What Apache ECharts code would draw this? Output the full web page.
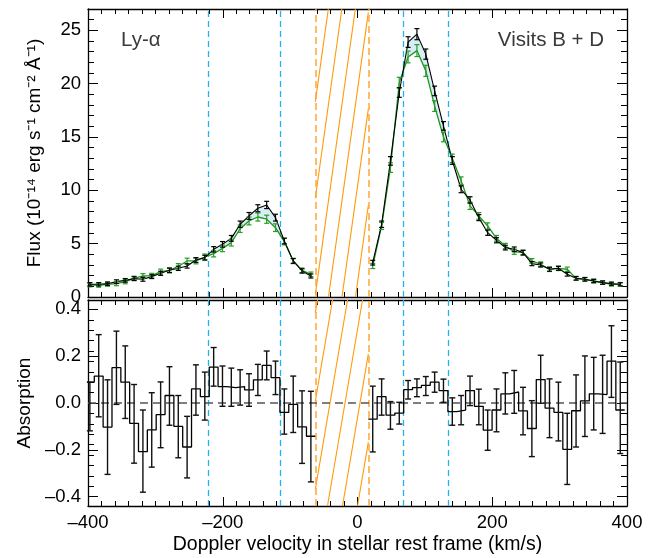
<!DOCTYPE html>
<html><head><meta charset="utf-8">
<script src="https://cdn.jsdelivr.net/npm/echarts@6/dist/echarts.min.js"></script>
<style>html,body{margin:0;padding:0;background:#fff}#c{width:657px;height:558px}</style>
</head><body><div id="c"></div>
<script>
// ---- data ----
const velocity = [-397.2,-384.1,-371.0,-357.8,-344.7,-331.6,-318.5,-305.4,-292.2,-279.1,-266.0,-252.9,-239.8,-226.6,-213.5,-200.4,-187.3,-174.2,-161.0,-147.9,-134.8,-121.7,-108.6,-95.4,-82.3,-69.2,
  22.6,35.8,48.9,62.0,75.1,88.2,101.4,114.5,127.6,140.7,153.8,167.0,180.1,193.2,206.3,219.4,232.6,245.7,258.8,271.9,285.0,298.2,311.3,324.4,337.5,350.6,363.8,376.9,390.0];
const fluxBlack = [1.19,1.19,1.25,1.44,1.56,1.72,1.66,1.91,2.22,2.50,2.69,2.91,3.47,3.69,4.47,4.94,5.50,6.82,7.60,8.32,8.63,7.44,5.25,3.38,2.44,1.97,
  3.22,6.82,12.76,19.17,23.90,24.64,22.77,19.32,16.04,12.80,10.10,9.10,7.44,6.03,5.32,4.63,4.47,4.16,3.13,3.00,2.60,2.69,2.13,1.75,1.66,1.50,1.35,1.25,1.19];
const errBlack = [0.16,0.16,0.16,0.17,0.17,0.18,0.18,0.18,0.19,0.2,0.2,0.2,0.22,0.22,0.25,0.26,0.27,0.3,0.32,0.33,0.34,0.32,0.27,0.22,0.2,0.19,
  0.22,0.3,0.4,0.45,0.5,0.52,0.48,0.45,0.4,0.36,0.32,0.3,0.28,0.25,0.24,0.22,0.22,0.21,0.19,0.19,0.18,0.18,0.17,0.16,0.16,0.15,0.15,0.15,0.14];
const fluxGreen = [1.13,1.10,1.19,1.25,1.44,1.75,1.97,2.00,2.38,2.50,2.88,3.38,3.38,3.75,4.06,4.56,5.10,6.40,7.13,7.50,7.29,6.50,5.19,3.38,2.50,2.13,
  2.91,6.66,12.13,20.10,22.50,23.10,21.20,17.90,15.00,13.00,10.90,8.54,7.60,6.66,5.50,4.78,4.25,4.16,3.38,3.07,2.60,2.69,2.60,1.75,1.66,1.50,1.35,1.19,1.19];
const errGreen = [0.18,0.18,0.18,0.19,0.2,0.2,0.22,0.22,0.23,0.24,0.25,0.26,0.27,0.28,0.3,0.31,0.32,0.35,0.37,0.38,0.38,0.36,0.3,0.25,0.22,0.21,
  0.24,0.33,0.45,0.5,0.55,0.56,0.52,0.5,0.45,0.4,0.36,0.33,0.31,0.29,0.27,0.25,0.25,0.24,0.22,0.22,0.21,0.21,0.2,0.19,0.18,0.18,0.17,0.17,0.17];
const absorption = [0.089,0.115,-0.103,0.151,0.089,-0.087,-0.208,-0.115,-0.050,0.032,-0.100,-0.188,0.060,0.027,0.153,0.070,0.066,0.070,0.056,0.099,0.161,0.108,-0.040,-0.006,-0.102,-0.142,
  -0.069,0.027,-0.052,-0.043,0.057,0.066,0.075,0.089,0.053,-0.037,-0.030,0.053,-0.014,-0.116,-0.030,0.039,0.047,-0.034,-0.109,0.100,-0.022,-0.040,-0.198,-0.033,0.009,0.039,0.036,0.179,-0.030];
const absHigh = [0.089,0.292,0.099,0.307,0.244,0.079,-0.030,0.044,0.090,0.155,0.032,-0.057,0.163,0.132,0.237,0.158,0.149,0.142,0.125,0.165,0.222,0.179,0.060,0.115,0.052,0.050,
  0.072,0.103,0.006,0.003,0.096,0.103,0.113,0.132,0.102,0.022,0.032,0.115,0.059,-0.030,0.060,0.129,0.139,0.067,0.010,0.204,0.103,0.089,-0.044,0.120,0.201,0.195,0.204,0.330,0.175];
const absLow = [-0.119,-0.059,-0.305,-0.006,-0.066,-0.257,-0.381,-0.274,-0.191,-0.095,-0.234,-0.320,-0.052,-0.073,0.072,-0.014,-0.014,-0.009,-0.014,0.032,0.099,0.036,-0.133,-0.126,-0.258,-0.337,
  -0.209,-0.052,-0.112,-0.090,0.017,0.027,0.032,0.046,0.003,-0.095,-0.093,-0.011,-0.093,-0.202,-0.123,-0.047,-0.044,-0.136,-0.229,-0.001,-0.148,-0.162,-0.348,-0.188,-0.143,-0.115,-0.130,0.024,-0.216];
const blueLines = [-222.1, -115.1, 68.6, 134.2];
const orangeLines = [-62.6, 16.1];
const xTicksMajor = [-400,-200,0,200,400];
const xTickLabels = [-400,-200,0,200,400];
const fluxTicks = [0,5,10,15,20,25];
const absTicks = [-0.4,-0.2,0.0,0.2,0.4];
const panelTexts = ['Ly-α', 'Visits B + D'];

// ---- helpers ----
const FONT = 'Liberation Sans, Arial, Helvetica, sans-serif';
function seq(a, b, s) { const o = []; for (let v = a; v <= b + 1e-9; v += s) o.push(+v.toFixed(4)); return o; }
const xMinor = seq(-400, 400, 20).filter(v => v % 200 !== 0);
const fluxMinor = seq(0, 27, 1).filter(v => v % 5 !== 0);
const absMinor = [];
for (let k = -9; k <= 9; k++) { if (k !== 0 && Math.abs(k) !== 9) absMinor.push(+(k * 0.4 / 9).toFixed(5)); }

// split into contiguous segments (gap over the hatched region)
const segs = [];
{
  let cur = [0];
  for (let i = 1; i < velocity.length; i++) {
    if (velocity[i] - velocity[i - 1] > 20) { segs.push(cur); cur = []; }
    cur.push(i);
  }
  segs.push(cur);
}

const xAxes = [], yAxes = [];
function addAxis(list, o) { list.push(o); return list.length - 1; }
function mkAxis(grid, pos, min, max, ticks, len, labels, fmt, showLine, name) {
  const a = {
    type: 'value', gridIndex: grid, position: pos, min: min, max: max,
    axisLine: { show: showLine, onZero: false, lineStyle: { color: '#000', width: 1.3 } },
    axisTick: { show: true, inside: true, length: len, customValues: ticks, lineStyle: { color: '#000', width: 1 } },
    axisLabel: { show: !!labels, color: '#000', fontSize: 18.5, fontFamily: FONT, margin: 7, formatter: fmt },
    splitLine: { show: false }
  };
  if (labels) a.axisLabel.customValues = labels;
  if (name) Object.assign(a, name);
  return a;
}
const fmtX = v => v < 0 ? '\u2013' + (-v) : String(v);
const fmtAbs = v => (v < -1e-9 ? '\u2013' : '') + Math.abs(v).toFixed(1);
const fmtFlux = v => String(v);

const G0 = { left: 88, right: 30, top: 9, height: 288 };
const G1 = { left: 88, right: 30, top: 300, height: 206 };

// top panel axes
const x0 = addAxis(xAxes, mkAxis(0, 'bottom', -400, 400, xTicksMajor, 9, null, fmtX, true));
addAxis(xAxes, mkAxis(0, 'bottom', -400, 400, xMinor, 5, null, fmtX, false));
addAxis(xAxes, mkAxis(0, 'top', -400, 400, xTicksMajor, 9, null, fmtX, true));
addAxis(xAxes, mkAxis(0, 'top', -400, 400, xMinor, 5, null, fmtX, false));
const y0 = addAxis(yAxes, mkAxis(0, 'left', 0, 27, fluxTicks, 10, fluxTicks, fmtFlux, true, {
  name: 'Flux (10\u207B\u00B9\u2074 erg s\u207B\u00B9 cm\u207B\u00B2 \u00C5\u207B\u00B9)', nameLocation: 'middle', nameGap: 44,
  nameTextStyle: { fontSize: 19, fontFamily: FONT, color: '#000' } }));
addAxis(yAxes, mkAxis(0, 'left', 0, 27, fluxMinor, 6, null, fmtFlux, false));
addAxis(yAxes, mkAxis(0, 'right', 0, 27, fluxTicks, 10, null, fmtFlux, true));
addAxis(yAxes, mkAxis(0, 'right', 0, 27, fluxMinor, 6, null, fmtFlux, false));
// bottom panel axes
const x1 = addAxis(xAxes, mkAxis(1, 'bottom', -400, 400, xTicksMajor, 9, xTickLabels, fmtX, true, {
  name: 'Doppler velocity in stellar rest frame (km/s)', nameLocation: 'middle', nameGap: 29,
  nameTextStyle: { fontSize: 19.5, fontFamily: FONT, color: '#000' } }));
addAxis(xAxes, mkAxis(1, 'bottom', -400, 400, xMinor, 5, null, fmtX, false));
addAxis(xAxes, mkAxis(1, 'top', -400, 400, xTicksMajor, 9, null, fmtX, true));
addAxis(xAxes, mkAxis(1, 'top', -400, 400, xMinor, 5, null, fmtX, false));
const y1 = addAxis(yAxes, mkAxis(1, 'left', -0.44, 0.44, absTicks, 10, absTicks, fmtAbs, true, {
  name: 'Absorption', nameLocation: 'middle', nameGap: 44,
  nameTextStyle: { fontSize: 19, fontFamily: FONT, color: '#000' } }));
addAxis(yAxes, mkAxis(1, 'left', -0.44, 0.44, absMinor, 6, null, fmtAbs, false));
addAxis(yAxes, mkAxis(1, 'right', -0.44, 0.44, absTicks, 10, null, fmtAbs, true));
addAxis(yAxes, mkAxis(1, 'right', -0.44, 0.44, absMinor, 6, null, fmtAbs, false));

// ---- renderers ----
function errRender(color, cap, width) {
  return function (params, api) {
    const x = api.value(0), lo = api.value(1), hi = api.value(2);
    const a = api.coord([x, lo]), b = api.coord([x, hi]);
    const st = { stroke: color, lineWidth: width, fill: null };
    return { type: 'group', children: [
      { type: 'line', shape: { x1: a[0], y1: a[1], x2: b[0], y2: b[1] }, style: st },
      { type: 'line', shape: { x1: a[0] - cap, y1: a[1], x2: a[0] + cap, y2: a[1] }, style: st },
      { type: 'line', shape: { x1: b[0] - cap, y1: b[1], x2: b[0] + cap, y2: b[1] }, style: st }
    ] };
  };
}
function hatchRender(ratio, spacing, anchor) {
  return function (params, api) {
    const cs = params.coordSys;
    const L = api.coord([api.value(0), 0])[0], R = api.coord([api.value(1), 0])[0];
    const bottom = cs.y + cs.height, H = cs.height;
    const children = [];
    let start = anchor - Math.ceil((anchor - (L - H * ratio)) / spacing) * spacing;
    for (let xb = start; xb <= R; xb += spacing) {
      let h0 = Math.max(0, (L - xb) / ratio), h1 = Math.min(H, (R - xb) / ratio);
      if (h1 <= h0) continue;
      children.push({ type: 'line', shape: { x1: xb + h0 * ratio, y1: bottom - h0, x2: xb + h1 * ratio, y2: bottom - h1 },
        style: { stroke: '#ff9a0a', lineWidth: 1.1 } });
    }
    return { type: 'group', children };
  };
}
function interp(xs, ys, x) {
  for (let i = 0; i < xs.length - 1; i++) {
    if (x >= xs[i] && x <= xs[i + 1]) return ys[i] + (ys[i + 1] - ys[i]) * (x - xs[i]) / (xs[i + 1] - xs[i]);
  }
  return null;
}
function fillRender(params, api) {
  const children = [];
  const pairs = [[blueLines[0], blueLines[1]], [blueLines[2], blueLines[3]]];
  pairs.forEach(([a, b]) => {
    const xs = [a]; velocity.forEach(v => { if (v > a && v < b) xs.push(v); }); xs.push(b);
    const top = xs.map(x => api.coord([x, interp(velocity, fluxBlack, x)]));
    const bot = xs.map(x => api.coord([x, interp(velocity, fluxGreen, x)])).reverse();
    children.push({ type: 'polygon', shape: { points: top.concat(bot) }, style: { fill: '#d8eef5', stroke: null } });
  });
  return { type: 'group', children };
}

// ---- series ----
const series = [];
series.push({ type: 'custom', xAxisIndex: x0, yAxisIndex: y0, renderItem: fillRender, data: [[0, 0]], z: 1, silent: true });
series.push({ type: 'custom', xAxisIndex: x0, yAxisIndex: y0, renderItem: hatchRender(0.14, 13.5, 315), data: [[orangeLines[0], orangeLines[1]]], encode: { x: [0, 1] }, z: 2, silent: true });
series.push({ type: 'custom', xAxisIndex: x1, yAxisIndex: y1, renderItem: hatchRender(0.17, 15, 312.5), data: [[orangeLines[0], orangeLines[1]]], encode: { x: [0, 1] }, z: 2, silent: true });

const vlines = blueLines.map(v => ({ xAxis: v, lineStyle: { color: '#22b2ee', type: [6, 4], width: 1.3 } }))
  .concat(orangeLines.map(v => ({ xAxis: v, lineStyle: { color: '#ffa534', type: [7, 4], width: 1.5 } })));

segs.forEach((idx, k) => {
  series.push({ type: 'line', xAxisIndex: x0, yAxisIndex: y0, data: idx.map(i => [velocity[i], fluxGreen[i]]),
    symbol: 'none', lineStyle: { color: '#1e961e', width: 1.3 }, z: 4,
    markLine: k === 0 ? { silent: true, symbol: ['none', 'none'], label: { show: false }, data: vlines, z: 3 } : undefined });
  series.push({ type: 'line', xAxisIndex: x0, yAxisIndex: y0, data: idx.map(i => [velocity[i], fluxBlack[i]]),
    symbol: 'none', lineStyle: { color: '#000', width: 1.1 }, z: 5 });
  // step histogram in the lower panel
  const pts = [];
  idx.forEach((i, j) => {
    const prev = j > 0 ? velocity[idx[j - 1]] : null, next = j < idx.length - 1 ? velocity[idx[j + 1]] : null;
    const hl = prev !== null ? (velocity[i] - prev) / 2 : (next - velocity[i]) / 2;
    const hr = next !== null ? (next - velocity[i]) / 2 : (velocity[i] - prev) / 2;
    pts.push([velocity[i] - hl, absorption[i]], [velocity[i] + hr, absorption[i]]);
  });
  series.push({ type: 'line', xAxisIndex: x1, yAxisIndex: y1, data: pts, symbol: 'none', lineStyle: { color: '#000', width: 1.3 }, z: 5,
    markLine: k === 0 ? { silent: true, symbol: ['none', 'none'], label: { show: false }, z: 3,
      data: vlines.concat([{ yAxis: 0, lineStyle: { color: '#555', type: [8, 5], width: 1.5 } }]) } : undefined });
});
series.push({ type: 'custom', xAxisIndex: x0, yAxisIndex: y0, renderItem: errRender('#2a9a2a', 2.5, 1.2),
  data: velocity.map((v, i) => [v, fluxGreen[i] - errGreen[i], fluxGreen[i] + errGreen[i]]), encode: { x: 0, y: [1, 2] }, z: 6, silent: true });
series.push({ type: 'custom', xAxisIndex: x0, yAxisIndex: y0, renderItem: errRender('#000', 2.5, 1.2),
  data: velocity.map((v, i) => [v, fluxBlack[i] - errBlack[i], fluxBlack[i] + errBlack[i]]), encode: { x: 0, y: [1, 2] }, z: 7, silent: true });
series.push({ type: 'custom', xAxisIndex: x1, yAxisIndex: y1, renderItem: errRender('#111', 3, 1.4),
  data: velocity.map((v, i) => [v, absLow[i], absHigh[i]]), encode: { x: 0, y: [1, 2] }, z: 6, silent: true });

const chart = echarts.init(document.getElementById('c'), null, { renderer: 'canvas' });
chart.setOption({
  animation: false,
  backgroundColor: '#fff',
  grid: [G0, G1],
  xAxis: xAxes,
  yAxis: yAxes,
  series: series,
  graphic: [
    { type: 'text', left: 121, top: 30, style: { text: panelTexts[0], font: '20.5px ' + FONT, fill: '#3a3a3a' }, z: 10 },
    { type: 'text', right: 53, top: 30, style: { text: panelTexts[1], font: '20.5px ' + FONT, fill: '#3a3a3a' }, z: 10 }
  ]
});
</script></body></html>
